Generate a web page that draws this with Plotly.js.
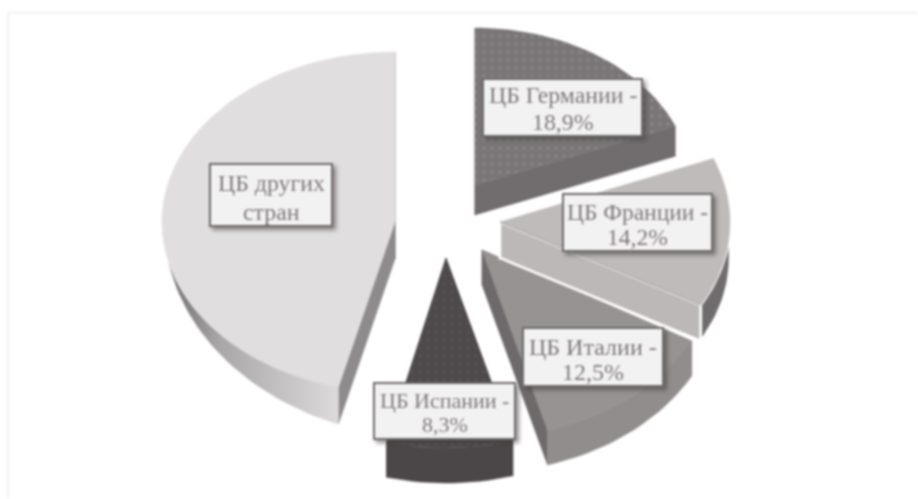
<!DOCTYPE html>
<html>
<head>
<meta charset="utf-8">
<script src="https://cdn.plot.ly/plotly-3.0.1.min.js"></script>
<style>
html,body{margin:0;padding:0;background:#fff;}
#chart{width:918px;height:499px;filter:blur(1px);}
.annotation rect.bg{filter:drop-shadow(3px 3px 2px rgba(60,55,55,.55));}
</style>
</head>
<body>
<div id="chart"></div>
<script>
// Data
const categories = ['ЦБ Германии', 'ЦБ Франции', 'ЦБ Италии', 'ЦБ Испании', 'ЦБ других стран'];
const shares = [18.9, 14.2, 12.5, 8.3, 46.1];
const labelTexts = [['ЦБ Германии -', '18,9%'], ['ЦБ Франции -', '14,2%'], ['ЦБ Италии -', '12,5%'], ['ЦБ Испании -', '8,3%'], ['ЦБ других', 'стран']];

// Look of the exploded, tilted pie
const centre = {x: 435, y: 225};
const pullX = [40, 65, 47, 11, -40];
const pullY = [-40, -3, 25, 33, -3];
const radiusX = [216, 230, 240, 245, 233];
const radiusY = [157, 170, 187, 190, 170];
const depth = [30, 36, 35, 35, 37];
const arcFadeFrom = [0, 0, 0, 0, 256];
const topColor = ['#7a7576', '#bfbbba', '#989494', '#4e4a4b', '#e0dede'];
const dotColor = ['#8f8b8c', '#bfbbba', '#8b8788', '#575354', '#e0dede'];
const dotSize = [8, 4, 4, 8, 4];
const arcColor = ['#716c6d', '#6f6c6d', '#918d8d', '#4b4748', '#c9c7c7'];
const startColor = ['#716c6d', '#c6c3c1', '#6e6a6b', '#4b4748', '#8d8b8b'];
const endColor = ['#716c6d', '#bcb8b7', '#6e6a6b', '#4b4748', '#77757a'];
const outline = [null, '#ffffff', null, null, null];
const boxCentreX = [562.5, 637.5, 593, 444.5, 271];
const boxCentreY = [107.5, 222.5, 357, 411, 195];
const boxWidth = [161, 151, 142, 143, 124];
const boxHeight = [59, 59, 60, 58, 64];
const textCentreY = [108.5, 224.5, 359.5, 412, 197.5];
const lineGap = [27, 25, 25, 24, 29];
const fontSize = [23.8, 23.5, 24, 22, 23.8];
const drawOrder = [0, 2, 1, 3, 4];

const total = shares.reduce((a, b) => a + b, 0);
const startAngle = [];
shares.reduce((acc, v, i) => { startAngle[i] = acc; return acc + v / total * 360; }, 0);

function point(i, deg, drop) {
  const t = deg * Math.PI / 180;
  return [centre.x + pullX[i] + radiusX[i] * Math.sin(t),
          centre.y + pullY[i] - radiusY[i] * Math.cos(t) + (drop || 0)];
}
function tip(i, drop) { return [centre.x + pullX[i], centre.y + pullY[i] + (drop || 0)]; }
function arc(i, a, b, dropAt) {
  const pts = [], n = Math.max(2, Math.ceil(Math.abs(b - a) / 2));
  for (let k = 0; k <= n; k++) {
    const deg = a + (b - a) * k / n;
    pts.push(point(i, deg, dropAt ? dropAt(deg) : 0));
  }
  return pts;
}
function poly(pts, color, line, extra) {
  const closed = pts.concat([pts[0]]);
  return Object.assign({
    type: 'scatter', mode: 'lines', x: closed.map(p => p[0]), y: closed.map(p => p[1]),
    fill: 'toself', fillcolor: color, hoverinfo: 'skip',
    line: line ? {color: line, width: 2.5} : {color: color, width: 0.5}
  }, extra || {});
}

const traces = [];
drawOrder.forEach(i => {
  const a = startAngle[i], b = a + shares[i] / total * 360, d = depth[i];
  const fade = arcFadeFrom[i];
  const lo = Math.max(a, 90), hi = Math.min(b, fade || 270);
  const dropAt = fade ? (deg => d * Math.pow(Math.min(1, Math.max(0, (fade - deg) / (fade - a))), 0.75)) : (() => d);
  traces.push(poly([tip(i), point(i, a), point(i, a, d), tip(i, d)], startColor[i], outline[i]));
  traces.push(poly([tip(i), point(i, b), point(i, b, d), tip(i, d)], endColor[i], outline[i]));
  if (hi > lo) {
    const ribbon = arc(i, lo, hi).concat(arc(i, hi, lo, dropAt));
    const extra = i === 4 ? {fillgradient: {type: 'horizontal', colorscale: [[0, '#6f6d6d'], [0.3, '#a9a7a7'], [1, '#dcdada']]}} : {};
    traces.push(poly(ribbon, arcColor[i], outline[i], extra));
  }
  const face = [tip(i)].concat(arc(i, a, b));
  traces.push(poly(face, topColor[i], null, {
    fillpattern: {shape: '.', fgcolor: dotColor[i], bgcolor: topColor[i], size: dotSize[i], solidity: 0.12}
  }));
  if (i === 1) {
    const e = [tip(i), point(i, b)];
    traces.push({type: 'scatter', mode: 'lines', x: e.map(p => p[0]), y: e.map(p => p[1]),
      line: {color: '#a09c9c', width: 1}, hoverinfo: 'skip'});
  }
});

const annotations = [];
categories.forEach((c, i) => {
  annotations.push({
    x: boxCentreX[i], y: boxCentreY[i], xref: 'x', yref: 'y', text: ' ', showarrow: false,
    width: boxWidth[i] - 4, height: boxHeight[i] - 4,
    bgcolor: '#f3f2f2', bordercolor: '#6f6b6c', borderwidth: 2, borderpad: 0
  });
});
categories.forEach((c, i) => {
  labelTexts[i].forEach((line, k) => {
    annotations.push({
      x: boxCentreX[i], y: textCentreY[i] + (k - 0.5) * lineGap[i], xref: 'x', yref: 'y',
      text: line, showarrow: false, align: 'center', borderpad: 0,
      font: {family: '"Liberation Serif", serif', size: fontSize[i], color: '#7d797a'}
    });
  });
});

const layout = {
  width: 918, height: 499, margin: {l: 0, r: 0, t: 0, b: 0},
  paper_bgcolor: '#ffffff', plot_bgcolor: '#ffffff', showlegend: false,
  xaxis: {range: [0, 918], visible: false, fixedrange: true},
  yaxis: {range: [499, 0], visible: false, fixedrange: true},
  annotations: annotations,
  shapes: [
    {type: 'line', xref: 'x', yref: 'y', x0: 8, x1: 918, y0: 13, y1: 13, line: {color: '#ececec', width: 1.5}, layer: 'below'},
    {type: 'line', xref: 'x', yref: 'y', x0: 8, x1: 8, y0: 13, y1: 499, line: {color: '#ececec', width: 1.5}, layer: 'below'}
  ]
};
Plotly.newPlot('chart', traces, layout, {displayModeBar: false, staticPlot: true});
</script>
</body>
</html>
